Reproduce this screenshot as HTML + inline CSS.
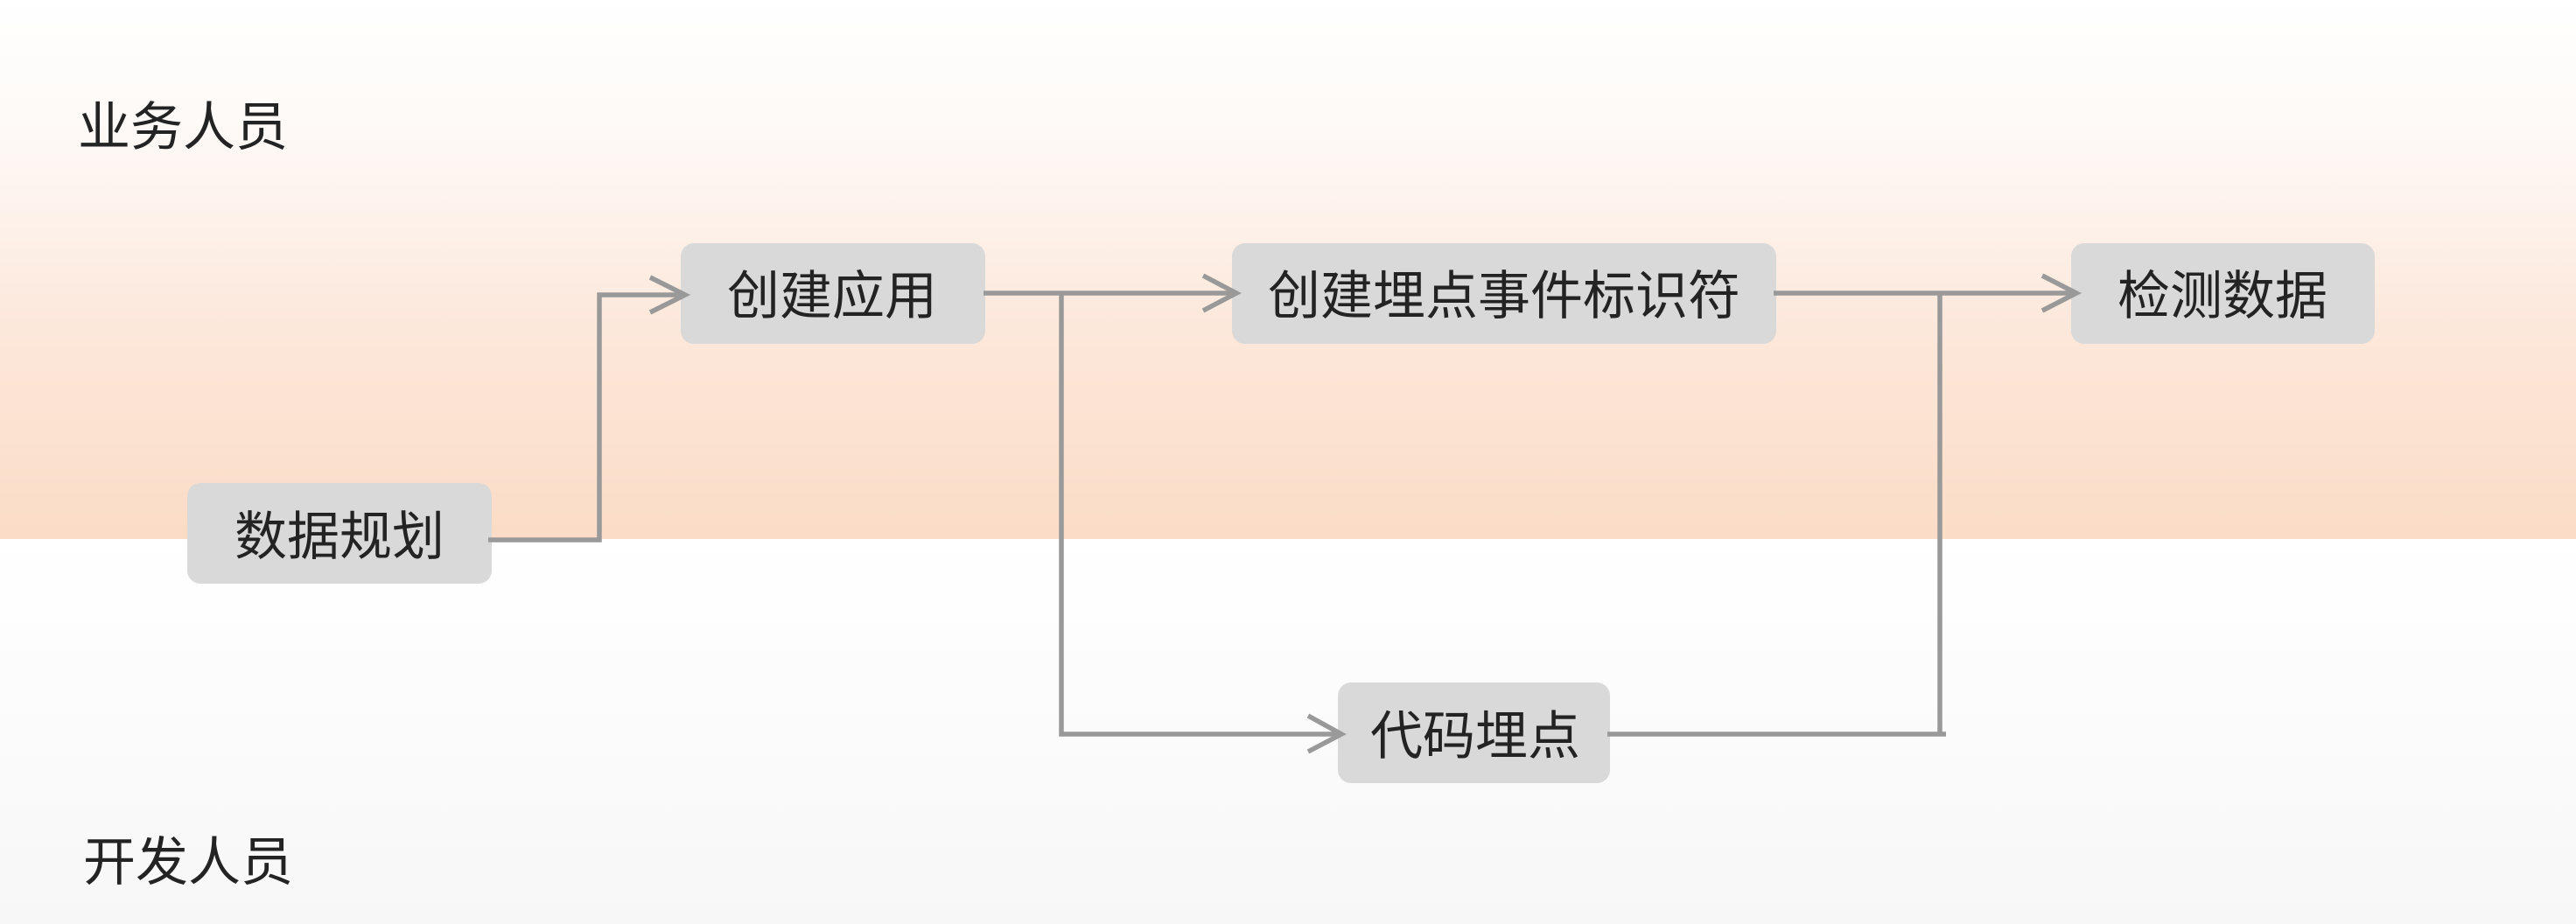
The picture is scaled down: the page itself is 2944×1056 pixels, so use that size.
<!DOCTYPE html>
<html>
<head>
<meta charset="utf-8">
<style>
  html,body{margin:0;padding:0;width:2944px;height:1056px;overflow:hidden;background:#fff;}
  svg{display:block;}
  text{font-family:"Liberation Sans","Noto Sans CJK SC",sans-serif;font-size:60px;fill:#232323;}
</style>
</head>
<body>
<svg width="2944" height="1056" viewBox="0 0 2944 1056" xmlns="http://www.w3.org/2000/svg">
  <defs>
    <linearGradient id="top" x1="0" y1="0" x2="0" y2="1">
      <stop offset="0" stop-color="#ffffff"/>
      <stop offset="0.25" stop-color="#fef9f6"/>
      <stop offset="0.6" stop-color="#fce8db"/>
      <stop offset="1" stop-color="#fbdcc6"/>
    </linearGradient>
    <linearGradient id="bot" x1="0" y1="0" x2="0" y2="1">
      <stop offset="0" stop-color="#ffffff"/>
      <stop offset="1" stop-color="#f7f7f7"/>
    </linearGradient>
  </defs>

  <rect x="0" y="0" width="2944" height="616" fill="url(#top)"/>
  <rect x="0" y="616" width="2944" height="440" fill="url(#bot)"/>

  <!-- lane labels -->
  <text x="89" y="166">业务人员</text>
  <text x="95" y="1006">开发人员</text>

  <!-- boxes -->
  <rect x="214" y="552" width="348" height="115" rx="15" fill="#d9d9d9"/>
  <rect x="778" y="278" width="348" height="115" rx="15" fill="#d9d9d9"/>
  <rect x="1408" y="278" width="622" height="115" rx="15" fill="#d9d9d9"/>
  <rect x="2367" y="278" width="347" height="115" rx="15" fill="#d9d9d9"/>
  <rect x="1529" y="780" width="311" height="115" rx="15" fill="#d9d9d9"/>

  <!-- connectors -->
  <g fill="none" stroke="#999999" stroke-width="5.5" stroke-linejoin="miter">
    <!-- 数据规划 -> 创建应用 -->
    <polyline points="558,617 685,617 685,337 782,337"/>
    <polyline points="743,317 783,337 743,357"/>
    <!-- 创建应用 -> 创建埋点事件标识符 -->
    <polyline points="1124,335 1412,335"/>
    <polyline points="1375,315 1413,335 1375,355"/>
    <!-- branch to 代码埋点 -->
    <polyline points="1213,335 1213,839 1532,839"/>
    <polyline points="1495,818 1533,839 1495,859"/>
    <!-- 创建埋点事件标识符 -> 检测数据 -->
    <polyline points="2027,335 2372,335"/>
    <polyline points="2334,315 2373,335 2334,355"/>
    <!-- 代码埋点 -> merge -->
    <polyline points="1837,839 2224,839"/>
    <polyline points="2217,335 2217,839"/>
  </g>

  <!-- box labels -->
  <text x="388" y="634" text-anchor="middle">数据规划</text>
  <text x="951" y="359" text-anchor="middle">创建应用</text>
  <text x="1719" y="359" text-anchor="middle">创建埋点事件标识符</text>
  <text x="2540" y="359" text-anchor="middle">检测数据</text>
  <text x="1686" y="862" text-anchor="middle">代码埋点</text>
</svg>
</body>
</html>
